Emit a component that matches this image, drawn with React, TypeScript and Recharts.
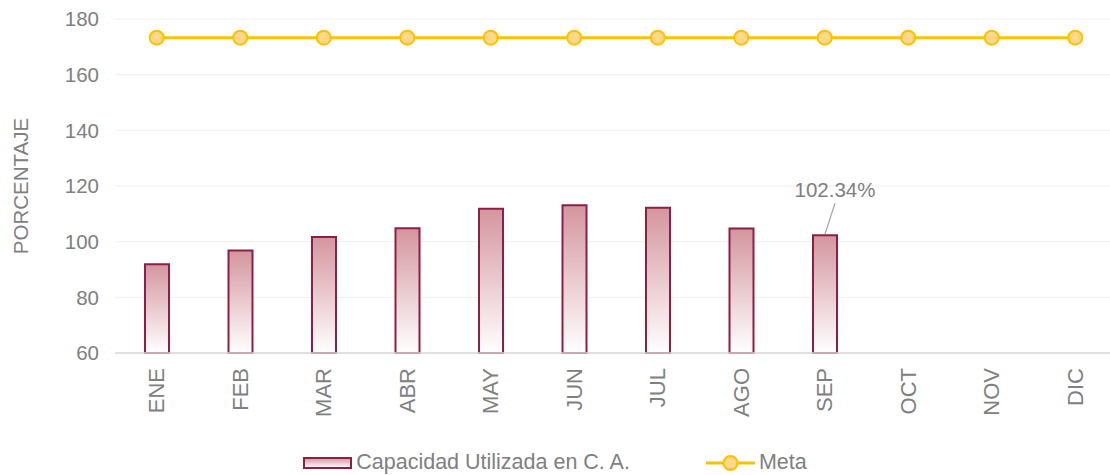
import React from 'react';
import { ComposedChart, Bar, Line, XAxis, YAxis, CartesianGrid, Legend, LabelList } from 'recharts';

const months = ['ENE', 'FEB', 'MAR', 'ABR', 'MAY', 'JUN', 'JUL', 'AGO', 'SEP', 'OCT', 'NOV', 'DIC'];
const capacidad: (number | null)[] = [91.9, 96.8, 101.7, 104.8, 111.8, 113.1, 112.2, 104.7, 102.34, null, null, null];
const meta: number[] = [173.3, 173.3, 173.3, 173.3, 173.3, 173.3, 173.3, 173.3, 173.3, 173.3, 173.3, 173.3];
const yTicks = [60, 80, 100, 120, 140, 160, 180];

const data = months.map((m, i) => ({ mes: m, capacidad: capacidad[i], meta: meta[i] }));

const FONT = '"Liberation Sans", Arial, sans-serif';
const GRAY = '#808080';
const BAR_STROKE = '#8C1F45';
const META = '#FFC000';

const XTick = (props: any) => {
  const { x, y, payload } = props;
  return (
    <text
      x={x}
      y={y}
      transform={`rotate(-90, ${x}, ${y})`}
      textAnchor="end"
      dy="0.35em"
      fill={GRAY}
      fontSize={22}
      fontFamily={FONT}
    >
      {payload.value}
    </text>
  );
};

const SepLabel = (props: any) => {
  const { x, y, width, value, index } = props;
  if (index !== 8 || value == null) return null;
  const cx = x + width / 2;
  return (
    <g>
      <line x1={cx} y1={y - 1} x2={cx + 10} y2={y - 32} stroke="#A6A6A6" strokeWidth={1.3} />
      <text x={cx + 10} y={y - 38} textAnchor="middle" fill={GRAY} fontSize={20.5} fontFamily={FONT}>
        {`${value.toFixed(2)}%`}
      </text>
    </g>
  );
};

const LegendContent = () => (
  <div
    style={{
      display: 'flex',
      justifyContent: 'center',
      alignItems: 'center',
      fontFamily: FONT,
      fontSize: 21.5,
      color: GRAY,
      gap: 76,
    }}
  >
    <div style={{ display: 'flex', alignItems: 'center' }}>
      <svg width={50} height={14} style={{ marginRight: 3 }}>
        <defs>
          <linearGradient id="legGrad" x1="0" y1="0" x2="0" y2="1">
            <stop offset="0%" stopColor="#D4959E" />
            <stop offset="100%" stopColor="#FFFFFF" />
          </linearGradient>
        </defs>
        <rect x={1} y={2} width={47} height={10} fill="url(#legGrad)" stroke={BAR_STROKE} strokeWidth={2} />
      </svg>
      <span>Capacidad Utilizada en C. A.</span>
    </div>
    <div style={{ display: 'flex', alignItems: 'center' }}>
      <svg width={50} height={18} style={{ marginRight: 3 }}>
        <line x1={0} y1={9} x2={49} y2={9} stroke={META} strokeWidth={3} />
        <circle cx={24.5} cy={9} r={7} fill="#FFD88A" stroke={META} strokeWidth={2} />
      </svg>
      <span>Meta</span>
    </div>
  </div>
);

export default function App() {
  return (
    <div style={{ position: 'fixed', left: 0, top: 0, width: 1110, height: 475, overflow: 'hidden', background: '#fff' }}>
      <ComposedChart
        width={1117}
        height={475}
        data={data}
        margin={{ top: 19, right: 0, bottom: 0, left: 0 }}
      >
        <defs>
          <linearGradient id="barGrad" x1="0" y1="0" x2="0" y2="1">
            <stop offset="0%" stopColor="#D4959E" />
            <stop offset="100%" stopColor="#FFFFFF" />
          </linearGradient>
        </defs>
        <CartesianGrid vertical={false} stroke="#EFEFEF" strokeWidth={1} />
        <XAxis
          dataKey="mes"
          height={97}
          axisLine={{ stroke: '#D9D9D9', strokeWidth: 1.5 }}
          tickLine={false}
          tickMargin={9}
          tick={<XTick />}
          interval={0}
        />
        <YAxis
          width={115}
          domain={[60, 180]}
          ticks={yTicks}
          axisLine={false}
          tickLine={false}
          tickMargin={10}
          tick={{ fill: GRAY, fontSize: 20.5, fontFamily: FONT }}
          label={{
            value: 'PORCENTAJE',
            angle: -90,
            position: 'insideLeft',
            offset: 21,
            style: { fill: GRAY, fontSize: 20.5, fontFamily: FONT, textAnchor: 'middle' },
          }}
        />
        <Legend verticalAlign="bottom" content={<LegendContent />} wrapperStyle={{ bottom: 0, left: 0, width: 1110 }} />
        <Bar
          dataKey="capacidad"
          name="Capacidad Utilizada en C. A."
          barSize={24}
          fill="url(#barGrad)"
          stroke={BAR_STROKE}
          strokeWidth={2}
          isAnimationActive={false}
        >
          <LabelList dataKey="capacidad" content={<SepLabel />} />
        </Bar>
        <Line
          dataKey="meta"
          name="Meta"
          stroke={META}
          strokeWidth={3}
          dot={{ r: 7, fill: '#FFD88A', stroke: META, strokeWidth: 2 }}
          activeDot={false}
          isAnimationActive={false}
        />
      </ComposedChart>
    </div>
  );
}
